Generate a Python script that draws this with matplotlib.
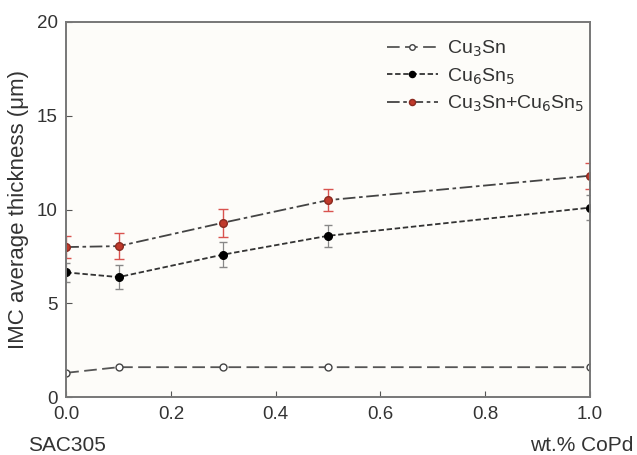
import matplotlib.pyplot as plt

# data
x = [0.0, 0.1, 0.3, 0.5, 1.0]
cu3sn = [1.3, 1.6, 1.6, 1.6, 1.6]
cu6sn5 = [6.65, 6.4, 7.6, 8.6, 10.1]
cu6sn5_err = [0.5, 0.65, 0.65, 0.6, 0.65]
total = [8.0, 8.05, 9.3, 10.5, 11.8]
total_err = [0.6, 0.7, 0.75, 0.6, 0.7]

plt.rcParams['font.family'] = ['Liberation Sans', 'DejaVu Sans']

fig = plt.figure(figsize=(6.37, 4.55), dpi=100)
fig.patch.set_facecolor('white')
ax = fig.add_axes([0.104, 0.127, 0.822, 0.825])
ax.set_facecolor('#fdfcf9')

# error bars first, lines+markers on top
ax.errorbar(x, cu6sn5, yerr=cu6sn5_err, fmt='none', ecolor='#888888',
            elinewidth=0.9, capsize=3)
ax.errorbar(x, total, yerr=total_err, fmt='none', ecolor='#d9534f',
            elinewidth=1.0, capsize=3.5)

ax.plot(x, cu3sn, color='#555555', lw=1.3, dashes=(7, 3),
        marker='o', ms=5, mfc='white', mec='#444444', label='Cu$_3$Sn')
ax.plot(x, cu6sn5, color='#333333', lw=1.3, dashes=(3, 1.5),
        marker='o', ms=5.5, mfc='black', mec='black', label='Cu$_6$Sn$_5$')
ax.plot(x, total, color='#444444', lw=1.3, dashes=(7, 2, 2, 2),
        marker='o', ms=5.5, mfc='#c0392b', mec='#8b2a20', label='Cu$_3$Sn+Cu$_6$Sn$_5$')

ax.set_xlim(0, 1.0)
ax.set_ylim(0, 20)
ax.set_xticks([0, 0.2, 0.4, 0.6, 0.8, 1.0])
ax.set_yticks([0, 5, 10, 15, 20])
ax.tick_params(direction='in', length=4, width=0.8, colors='#555555',
               labelcolor='#333333', labelsize=13.5, pad=6)
for s in ax.spines.values():
    s.set_color('#777777')
    s.set_linewidth(1.4)

ax.set_ylabel('IMC average thickness (\u03bcm)', fontsize=16, color='#333333', labelpad=6)
fig.text(0.044, 0.008, 'SAC305', fontsize=15, color='#333333', va='baseline')
fig.text(0.995, 0.008, 'wt.% CoPd', fontsize=15, color='#333333', ha='right', va='baseline')

ax.legend(loc='upper left', bbox_to_anchor=(0.6075, 0.914), bbox_transform=fig.transFigure,
          frameon=False, fontsize=14, handlelength=2.6, handletextpad=0.5,
          labelspacing=0.35, borderpad=0, borderaxespad=0, markerscale=0.8,
          labelcolor='#333333')

fig.savefig('out.png', dpi=100)
